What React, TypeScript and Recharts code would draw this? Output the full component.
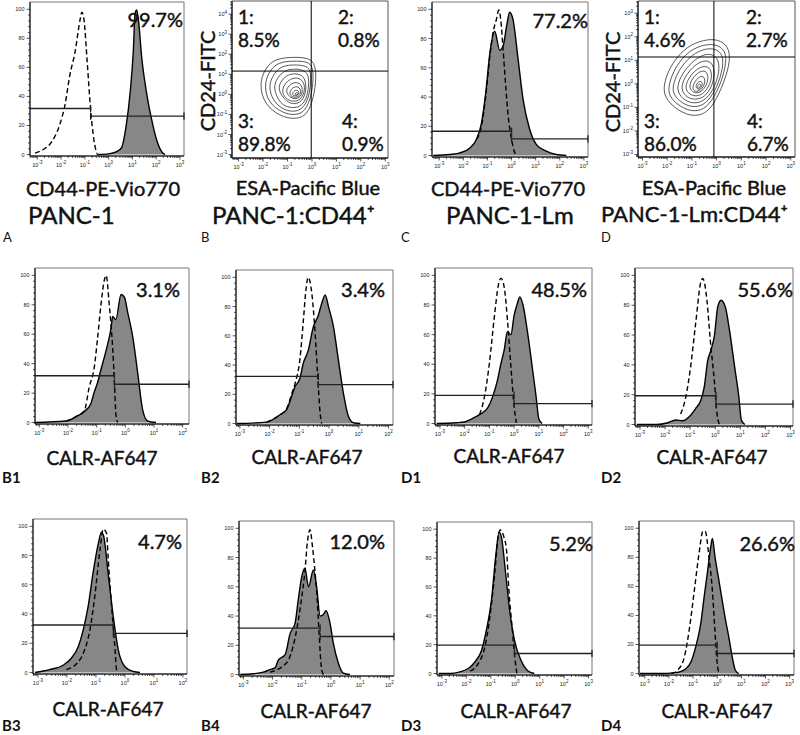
import React from "react";
import { Area, ComposedChart, Line, ReferenceArea, ReferenceLine, XAxis, YAxis } from "recharts";

type Pts = [number, number][];

// histogram traces: x = log10 intensity, y = % of mode
const aStained: Pts = [[-0.5,0],[-0.08,0.3],[0.34,2],[0.55,5],[0.73,19],[0.9,42],[1.04,72],[1.11,97],[1.18,99.5],[1.25,93],[1.39,67],[1.6,42],[1.81,24],[2.02,10],[2.23,2],[2.37,0]];
const aControl: Pts = [[-3.1,1],[-2.75,3.5],[-2.4,8.7],[-2.05,21],[-1.84,34],[-1.63,55],[-1.42,70],[-1.2,93],[-1.13,98],[-1.04,93],[-0.9,63],[-0.76,31],[-0.62,10],[-0.5,0.7]];
const cStained: Pts = [[-3.25,0],[-2.56,0.7],[-2.14,1.8],[-1.73,5.2],[-1.46,11],[-1.25,22],[-1.07,43],[-0.9,70],[-0.7,85],[-0.49,72],[-0.35,75],[-0.19,90],[-0.08,98],[0.06,93],[0.27,66],[0.48,38],[0.75,18],[1.03,7.5],[1.44,3],[1.86,0.7],[2.27,0]];
const cControl: Pts = [[-1.46,11],[-1.25,20],[-1.07,41],[-0.9,68],[-0.77,84],[-0.63,93],[-0.53,99.5],[-0.45,93],[-0.35,72],[-0.24,47],[-0.14,27],[0,11],[0.13,2],[0.2,0]];
const b1Stained: Pts = [[-3.17,0],[-2.07,1],[-1.72,4],[-1.43,7.5],[-1.2,13],[-1.08,21],[-0.97,27],[-0.85,36],[-0.67,49],[-0.5,64],[-0.44,72],[-0.33,70],[-0.15,87],[-0.03,85],[0.08,75],[0.26,58],[0.43,34],[0.6,9],[0.78,1],[1.07,0]];
const b1Control: Pts = [[-2.07,1],[-1.72,4],[-1.43,8],[-1.26,24],[-1.08,38],[-0.97,57],[-0.85,80],[-0.73,97],[-0.67,100],[-0.56,80],[-0.44,50],[-0.38,27],[-0.33,6],[-0.27,0]];
const b2Stained: Pts = [[-3.1,0],[-2.1,1],[-1.65,6],[-1.43,9.5],[-1.26,18.6],[-1.15,25],[-0.98,31],[-0.87,41],[-0.7,50],[-0.53,66],[-0.36,74],[-0.25,82],[-0.13,88],[-0.02,80],[0.15,66],[0.31,44],[0.48,21],[0.65,5],[0.82,0.5],[1.05,0]];
const b2Control: Pts = [[-2.1,1],[-1.65,6],[-1.43,10],[-1.26,20],[-1.15,27],[-0.98,44],[-0.87,69],[-0.78,91],[-0.7,100],[-0.58,89],[-0.47,62],[-0.39,35],[-0.3,7],[-0.25,0]];
const d1Stained: Pts = [[-3.13,0],[-2.33,0.5],[-2.0,1],[-1.73,3],[-1.4,6],[-1.07,10.5],[-0.87,18],[-0.67,29.5],[-0.53,40.7],[-0.4,49.7],[-0.27,62],[-0.13,60],[0.0,73],[0.13,81],[0.23,85.5],[0.36,80],[0.53,63],[0.73,38.5],[0.89,18],[1.0,3],[1.13,0]];
const d1Control: Pts = [[-1.4,6],[-1.2,18],[-1.0,40.7],[-0.8,72],[-0.63,94],[-0.53,98],[-0.4,92],[-0.27,70],[-0.13,38.5],[0.0,11.6],[0.09,0.5]];
const d2Stained: Pts = [[-3.13,0],[-2.33,0],[-1.92,1],[-1.58,3],[-1.3,2.5],[-1.05,5],[-0.78,10.8],[-0.57,16.4],[-0.44,25],[-0.3,43],[-0.17,50],[-0.03,60],[0.1,79],[0.23,83.4],[0.4,79],[0.57,63],[0.77,39],[0.94,18.6],[1.04,3],[1.18,0]];
const d2Control: Pts = [[-1.38,7],[-1.18,18],[-0.98,39],[-0.78,68],[-0.57,96],[-0.5,98],[-0.33,83],[-0.2,57],[-0.03,28],[0.07,7],[0.17,0]];
const b3Stained: Pts = [[-3.1,0],[-2.6,2],[-2.13,5],[-1.85,9.8],[-1.61,17.7],[-1.44,29],[-1.27,45],[-1.1,68],[-0.92,88],[-0.81,96],[-0.73,93],[-0.58,68],[-0.4,38],[-0.23,15.5],[0.0,4],[0.29,0.7],[0.52,0]];
const b3Control: Pts = [[-2.02,2],[-1.67,6],[-1.44,13],[-1.21,29],[-1.04,52],[-0.86,84],[-0.75,98],[-0.63,95],[-0.58,79],[-0.46,45],[-0.34,15.5],[-0.29,2],[-0.23,0]];
const b4Stained: Pts = [[-3.11,0],[-2.66,0.5],[-2.32,1.6],[-2.09,3.4],[-1.92,4.5],[-1.8,10],[-1.57,13.6],[-1.4,28],[-1.23,35],[-1.12,51],[-1.0,67],[-0.89,72.7],[-0.77,60],[-0.6,71.6],[-0.49,60],[-0.37,40],[-0.26,41],[-0.17,43.6],[-0.03,35],[0.08,21.6],[0.25,8],[0.42,1],[0.65,0]];
const b4Control: Pts = [[-2.09,1.6],[-1.52,8],[-1.23,25],[-1.0,53],[-0.89,71],[-0.81,90],[-0.72,99],[-0.63,87],[-0.55,71],[-0.47,51],[-0.4,26],[-0.32,3.4],[-0.26,0]];
const d3Stained: Pts = [[-3.13,0],[-2.66,0],[-2.26,1.2],[-1.92,3.5],[-1.65,8],[-1.38,16],[-1.18,30],[-0.97,51],[-0.8,81],[-0.66,98],[-0.57,95],[-0.39,69],[-0.23,44],[-0.03,23],[0.24,9],[0.51,2],[0.78,0]];
const d3Control: Pts = [[-1.85,1.6],[-1.51,7],[-1.24,18.5],[-1.04,39],[-0.84,69],[-0.7,95],[-0.61,99.5],[-0.47,95],[-0.36,86],[-0.26,58],[-0.12,30.6],[0.01,7],[0.07,0]];
const d4Stained: Pts = [[-3.2,0],[-2.25,0],[-1.84,0.5],[-1.57,1.1],[-1.29,3.4],[-1.09,8],[-0.89,18.4],[-0.68,34.5],[-0.54,53],[-0.41,69],[-0.27,87],[-0.2,93],[-0.09,80],[0.04,67],[0.18,53],[0.32,39],[0.48,25],[0.62,11.5],[0.75,2.3],[0.89,0]];
const d4Control: Pts = [[-1.9,0],[-1.64,2.3],[-1.36,11.5],[-1.16,30],[-0.95,57],[-0.75,83],[-0.59,98],[-0.5,98],[-0.34,80],[-0.2,57],[-0.09,28],[0.0,7],[0.07,0]];

// gates: [split position, left bar level, right bar level]
const gateA = [-0.76, 31.7, 26.4];
const gateC = [0.0, 16.6, 11.4];
const gateB1 = [-0.38, 31.8, 26];
const gateB2 = [-0.36, 32.3, 26.6];
const gateD1 = [0.0, 19, 13.4];
const gateD2 = [0.03, 19.3, 13.7];
const gateB3 = [-0.4, 32.5, 26.8];
const gateB4 = [-0.37, 31.8, 26];
const gateD3 = [-0.03, 19.7, 13.9];
const gateD4 = [0.0, 19.5, 13.8];

// contour rings (log10 ESA, log10 CD24), outer to inner
const ringsB: Pts[] = [
  [[-2.15,0.5],[-1.95,1.2],[-1.6,1.72],[-1.0,1.85],[-0.3,1.85],[0.12,1.65],[0.18,0.8],[0.08,-0.1],[-0.18,-1.05],[-0.7,-1.25],[-1.3,-1.1],[-1.95,-0.5]],
  [[-1.95,0.45],[-1.78,1.08],[-1.45,1.55],[-0.95,1.66],[-0.3,1.66],[0.03,1.48],[0.06,0.75],[-0.02,-0.08],[-0.28,-0.88],[-0.72,-1.05],[-1.22,-0.92],[-1.8,-0.4]],
  [[-1.78,0.4],[-1.6,0.95],[-1.3,1.38],[-0.85,1.48],[-0.3,1.45],[-0.05,1.25],[-0.05,0.6],[-0.12,-0.15],[-0.38,-0.75],[-0.78,-0.88],[-1.2,-0.75],[-1.6,-0.32]],
  [[-1.6,0.32],[-1.42,0.82],[-1.15,1.18],[-0.75,1.28],[-0.32,1.22],[-0.13,0.95],[-0.13,0.4],[-0.22,-0.25],[-0.5,-0.65],[-0.88,-0.68],[-1.3,-0.5]],
  [[-1.42,0.25],[-1.25,0.7],[-0.98,1.0],[-0.6,1.05],[-0.3,0.88],[-0.22,0.35],[-0.33,-0.25],[-0.65,-0.52],[-1.05,-0.4]],
  [[-1.25,0.18],[-1.08,0.58],[-0.82,0.82],[-0.5,0.82],[-0.3,0.55],[-0.3,0.1],[-0.48,-0.3],[-0.8,-0.38],[-1.1,-0.2]],
  [[-1.1,0.12],[-0.95,0.45],[-0.7,0.62],[-0.45,0.55],[-0.36,0.15],[-0.5,-0.2],[-0.82,-0.25]],
  [[-0.95,0.05],[-0.8,0.35],[-0.55,0.42],[-0.42,0.12],[-0.55,-0.15],[-0.8,-0.16]],
  [[-0.82,0.02],[-0.68,0.25],[-0.5,0.15],[-0.58,-0.08],[-0.75,-0.08]],
  [[-0.72,0.0],[-0.62,0.12],[-0.54,0.02],[-0.64,-0.06]],
];
const ringsD: Pts[] = [
  [[-2.2,-0.3],[-2.0,0.45],[-1.72,0.98],[-1.2,1.6],[-0.5,1.88],[0.05,1.9],[0.48,1.6],[0.56,1.0],[0.32,0.1],[-0.12,-0.92],[-0.58,-1.36],[-1.2,-1.36],[-1.92,-0.86]],
  [[-2.0,-0.28],[-1.8,0.4],[-1.55,0.88],[-1.1,1.42],[-0.5,1.68],[0.0,1.68],[0.35,1.42],[0.4,0.92],[0.2,0.08],[-0.2,-0.78],[-0.62,-1.16],[-1.18,-1.16],[-1.78,-0.74]],
  [[-1.82,-0.25],[-1.64,0.35],[-1.38,0.8],[-0.98,1.25],[-0.48,1.5],[-0.04,1.5],[0.24,1.25],[0.27,0.8],[0.1,0.05],[-0.26,-0.65],[-0.65,-0.98],[-1.15,-0.98],[-1.63,-0.64]],
  [[-1.62,-0.2],[-1.46,0.3],[-1.2,0.7],[-0.85,1.06],[-0.45,1.28],[-0.1,1.24],[0.12,0.94],[0.08,0.3],[-0.22,-0.45],[-0.64,-0.82],[-1.1,-0.82],[-1.46,-0.56]],
  [[-1.44,-0.16],[-1.3,0.26],[-1.05,0.62],[-0.72,0.92],[-0.36,1.02],[-0.1,0.78],[-0.08,0.2],[-0.32,-0.38],[-0.66,-0.66],[-1.05,-0.66],[-1.32,-0.46]],
  [[-1.28,-0.13],[-1.14,0.22],[-0.9,0.55],[-0.58,0.76],[-0.28,0.72],[-0.17,0.35],[-0.3,-0.1],[-0.55,-0.45],[-0.88,-0.55],[-1.16,-0.4]],
  [[-1.12,-0.1],[-0.98,0.24],[-0.72,0.52],[-0.44,0.58],[-0.32,0.3],[-0.42,-0.12],[-0.7,-0.42],[-1.0,-0.36]],
  [[-0.98,-0.1],[-0.82,0.2],[-0.58,0.38],[-0.44,0.18],[-0.54,-0.18],[-0.76,-0.34],[-0.94,-0.3]],
  [[-0.88,-0.12],[-0.74,0.1],[-0.58,0.12],[-0.58,-0.12],[-0.72,-0.28]],
  [[-0.8,-0.14],[-0.7,0.02],[-0.62,-0.06],[-0.72,-0.22]],
];

// quadrant cuts [x, y] and percentages (1, 2, 3, 4)
const quadB = [-0.03, 1.16];
const quadBLabels = ["8.5%", "0.8%", "89.8%", "0.9%"];
const quadD = [-0.11, 1.14];
const quadDLabels = ["4.6%", "2.7%", "86.0%", "6.7%"];

const FONT = "Lato, 'Open Sans', sans-serif";
const TICKFONT = "'Liberation Sans', Arial, sans-serif";
const YW = 30;
const XH = 16;

const toXY = (a: Pts) => a.map(([x, y]) => ({ x, y }));

function logTicks(lo: number, hi: number) {
  const out: number[] = [];
  for (let k = Math.floor(lo); k <= Math.ceil(hi); k++) {
    for (let m = 1; m < 10; m++) {
      const v = k + Math.log10(m);
      if (v >= lo && v <= hi) out.push(+v.toFixed(4));
    }
  }
  return out;
}
const isMajor = (v: number) => Math.abs(v - Math.round(v)) < 1e-3;
const linTicks: number[] = [];
for (let v = 0; v <= 100; v += 4) linTicks.push(v);

const XTick = (p: any) => {
  const { x, y, payload } = p;
  const v = payload.value as number;
  const major = isMajor(v);
  return (
    <g>
      <line x1={x} x2={x} y1={y} y2={y + (major ? 3.5 : 2)} stroke="#111" strokeWidth={0.7} />
      {major && (
        <text x={x} y={y + 10.5} textAnchor="middle" fontSize={5.5} fontFamily={TICKFONT} fill="#222">
          10<tspan dy={-2.5} fontSize={4.5}>{Math.round(v)}</tspan>
        </text>
      )}
    </g>
  );
};

const YTickLin = (p: any) => {
  const { x, y, payload } = p;
  const v = payload.value as number;
  const major = v % 20 === 0;
  return (
    <g>
      <line x1={x} x2={x - (major ? 3.5 : 2)} y1={y} y2={y} stroke="#111" strokeWidth={0.7} />
      {major && (
        <text x={x - 5.5} y={y + 2} textAnchor="end" fontSize={5.5} fontFamily={TICKFONT} fill="#222">{v}</text>
      )}
    </g>
  );
};

const YTickLog = (p: any) => {
  const { x, y, payload } = p;
  const v = payload.value as number;
  const major = isMajor(v);
  return (
    <g>
      <line x1={x} x2={x - (major ? 3.5 : 2)} y1={y} y2={y} stroke="#111" strokeWidth={0.7} />
      {major && (
        <text x={x - 5} y={y + 2} textAnchor="end" fontSize={5.5} fontFamily={TICKFONT} fill="#222">
          10<tspan dy={-2.5} fontSize={4.5}>{Math.round(v)}</tspan>
        </text>
      )}
    </g>
  );
};

type Box = { l: number; t: number; r: number; b: number };

function Frame({ box, children }: { box: Box; children: React.ReactNode }) {
  return (
    <div style={{ position: "absolute", left: box.l - YW, top: box.t - 2 }}>
      {children}
    </div>
  );
}

function Histogram({ box, xd, stained, control, gate }: {
  box: Box; xd: [number, number]; stained: Pts; control: Pts; gate: number[];
}) {
  const yd: [number, number] = [-1, 105];
  const seg = (x1: number, y1: number, x2: number, y2: number, k: string) => (
    <ReferenceLine key={k} segment={[{ x: x1, y: y1 }, { x: x2, y: y2 }]} stroke="#222" strokeWidth={1.3} ifOverflow="visible" />
  );
  return (
    <Frame box={box}>
      <ComposedChart width={box.r - box.l + YW + 4} height={box.b - box.t + 2 + XH} margin={{ top: 2, right: 4, bottom: 0, left: 0 }}>
        <XAxis type="number" dataKey="x" domain={xd} allowDataOverflow ticks={logTicks(xd[0], xd[1])} interval={0}
          tick={(p: any) => <XTick {...p} />} tickLine={false} tickSize={0} tickMargin={0} height={XH} axisLine={{ stroke: "#000" }} />
        <YAxis type="number" domain={yd} allowDataOverflow ticks={linTicks} interval={0} width={YW}
          tick={(p: any) => <YTickLin {...p} />} tickLine={false} tickSize={0} tickMargin={0} axisLine={{ stroke: "#000" }} />
        <ReferenceArea x1={xd[0]} x2={xd[1]} y1={yd[0]} y2={yd[1]} fill="none" stroke="#777" strokeWidth={1} ifOverflow="visible" />
        <Area data={toXY(stained)} dataKey="y" type="monotone" baseValue={0} fill="#878787" fillOpacity={1}
          stroke="#000" strokeWidth={1.4} dot={false} activeDot={false} isAnimationActive={false} />
        <Line data={toXY(control)} dataKey="y" type="monotone" stroke="#000" strokeWidth={1.4} strokeDasharray="5 3"
          dot={false} activeDot={false} isAnimationActive={false} />
        {seg(xd[0], gate[1], gate[0], gate[1], "l")}
        {seg(gate[0], gate[1] - 2.5, gate[0], gate[1] + 2.5, "lt")}
        {seg(gate[0], gate[2], xd[1], gate[2], "r")}
        {seg(gate[0], gate[2] - 2.5, gate[0], gate[2] + 2.5, "rt")}
        {seg(xd[1], gate[2] - 2.5, xd[1], gate[2] + 2.5, "re")}
      </ComposedChart>
    </Frame>
  );
}

function Contour({ box, xd, yd, rings, quad }: {
  box: Box; xd: [number, number]; yd: [number, number]; rings: Pts[]; quad: number[];
}) {
  return (
    <Frame box={box}>
      <ComposedChart width={box.r - box.l + YW + 4} height={box.b - box.t + 2 + XH} margin={{ top: 2, right: 4, bottom: 0, left: 0 }}>
        <XAxis type="number" dataKey="x" domain={xd} allowDataOverflow ticks={logTicks(xd[0], xd[1])} interval={0}
          tick={(p: any) => <XTick {...p} />} tickLine={false} tickSize={0} tickMargin={0} height={XH} axisLine={{ stroke: "#000" }} />
        <YAxis type="number" domain={yd} allowDataOverflow ticks={logTicks(yd[0], yd[1])} interval={0} width={YW}
          tick={(p: any) => <YTickLog {...p} />} tickLine={false} tickSize={0} tickMargin={0} axisLine={{ stroke: "#000" }} />
        <ReferenceArea x1={xd[0]} x2={xd[1]} y1={yd[0]} y2={yd[1]} fill="none" stroke="#555" strokeWidth={1} ifOverflow="visible" />
        {rings.map((r, i) => (
          <Line key={i} data={toXY(r)} dataKey="y" type="basisClosed" stroke="#222" strokeWidth={0.75}
            dot={false} activeDot={false} isAnimationActive={false} />
        ))}
        <ReferenceLine x={quad[0]} stroke="#000" strokeWidth={1} />
        <ReferenceLine y={quad[1]} stroke="#000" strokeWidth={1} />
      </ComposedChart>
    </Frame>
  );
}

function Txt({ x, y, anchor = "middle", size = 20, weight = 400, heavy = true, rotate = false, children }: {
  x: number; y: number; anchor?: "start" | "middle" | "end"; size?: number; weight?: number; heavy?: boolean;
  rotate?: boolean; children: React.ReactNode;
}) {
  const tx = anchor === "start" ? "0" : anchor === "end" ? "-100%" : "-50%";
  return (
    <div style={{
      position: "absolute", left: x, top: y, transform: `translate(${tx}, -50%)${rotate ? " rotate(-90deg)" : ""}`,
      fontFamily: FONT, fontSize: size, fontWeight: weight, lineHeight: 1, whiteSpace: "nowrap", color: "#111",
      WebkitTextStroke: heavy ? "0.45px #111" : undefined,
    }}>{children}</div>
  );
}

function Quad({ x, y, n, value }: { x: number; y: number; n: number; value: string }) {
  return (
    <>
      <Txt x={x} y={y} anchor="start" size={19}>{n}:</Txt>
      <Txt x={x} y={y + 23} anchor="start" size={19}>{value}</Txt>
    </>
  );
}

export default function App() {
  return (
    <div style={{ position: "absolute", left: 0, top: 0, width: 800, height: 735, background: "#fff", overflow: "hidden" }}>
      {/* row 1 */}
      <Histogram box={{ l: 30, t: 2, r: 184, b: 156 }} xd={[-3.31, 3.17]} stained={aStained} control={aControl} gate={gateA} />
      <Contour box={{ l: 232, t: 1, r: 388, b: 158 }} xd={[-3.27, 3.11]} yd={[-3.17, 4.65]} rings={ringsB} quad={quadB} />
      <Histogram box={{ l: 432, t: 2, r: 588, b: 157 }} xd={[-3.3, 3.17]} stained={cStained} control={cControl} gate={gateC} />
      <Contour box={{ l: 638, t: 1, r: 795, b: 157 }} xd={[-3.18, 3.17]} yd={[-3.11, 3.52]} rings={ringsD} quad={quadD} />

      {/* row 2 */}
      <Histogram box={{ l: 35, t: 268, r: 189, b: 424 }} xd={[-3.15, 2.22]} stained={b1Stained} control={b1Control} gate={gateB1} />
      <Histogram box={{ l: 236, t: 270, r: 393, b: 425 }} xd={[-3.13, 2.15]} stained={b2Stained} control={b2Control} gate={gateB2} />
      <Histogram box={{ l: 435, t: 268, r: 592, b: 425 }} xd={[-3.2, 3.15]} stained={d1Stained} control={d1Control} gate={gateD1} />
      <Histogram box={{ l: 635, t: 268, r: 793, b: 426 }} xd={[-3.2, 3.1]} stained={d2Stained} control={d2Control} gate={gateD2} />

      {/* row 3 */}
      <Histogram box={{ l: 33, t: 519, r: 187, b: 674 }} xd={[-3.17, 2.14]} stained={b3Stained} control={b3Control} gate={gateB3} />
      <Histogram box={{ l: 239, t: 521, r: 394, b: 676 }} xd={[-3.15, 2.16]} stained={b4Stained} control={b4Control} gate={gateB4} />
      <Histogram box={{ l: 437, t: 522, r: 592, b: 675 }} xd={[-3.2, 3.14]} stained={d3Stained} control={d3Control} gate={gateD3} />
      <Histogram box={{ l: 639, t: 521, r: 794, b: 675 }} xd={[-3.24, 3.18]} stained={d4Stained} control={d4Control} gate={gateD4} />

      {/* row 1 text */}
      <Txt x={183} y={19} anchor="end">99.7%</Txt>
      <Txt x={103} y={188}>CD44-PE-Vio770</Txt>
      <Txt x={28} y={215} anchor="start" size={24}>PANC-1</Txt>
      <Txt x={206.5} y={81} rotate>CD24-FITC</Txt>
      <Txt x={308} y={187}>ESA-Pacific Blue</Txt>
      <Txt x={212} y={215} anchor="start" size={24}>PANC-1:CD44⁺</Txt>
      <Quad x={238} y={16} n={1} value={quadBLabels[0]} />
      <Quad x={338} y={16} n={2} value={quadBLabels[1]} />
      <Quad x={238} y={120} n={3} value={quadBLabels[2]} />
      <Quad x={342} y={120} n={4} value={quadBLabels[3]} />
      <Txt x={588} y={20} anchor="end">77.2%</Txt>
      <Txt x={508} y={188}>CD44-PE-Vio770</Txt>
      <Txt x={446} y={215} anchor="start" size={24}>PANC-1-Lm</Txt>
      <Txt x={611.5} y={82} rotate>CD24-FITC</Txt>
      <Txt x={714} y={187}>ESA-Pacific Blue</Txt>
      <Txt x={601} y={214} anchor="start" size={22}>PANC-1-Lm:CD44⁺</Txt>
      <Quad x={644} y={16} n={1} value={quadDLabels[0]} />
      <Quad x={746} y={16} n={2} value={quadDLabels[1]} />
      <Quad x={644} y={120} n={3} value={quadDLabels[2]} />
      <Quad x={747} y={120} n={4} value={quadDLabels[3]} />
      <Txt x={3} y={237} anchor="start" size={13} heavy={false}>A</Txt>
      <Txt x={201} y={237} anchor="start" size={13} heavy={false}>B</Txt>
      <Txt x={401} y={237} anchor="start" size={13} heavy={false}>C</Txt>
      <Txt x={601} y={237} anchor="start" size={13} heavy={false}>D</Txt>

      {/* row 2 text */}
      <Txt x={180} y={289} anchor="end">3.1%</Txt>
      <Txt x={385} y={289} anchor="end">3.4%</Txt>
      <Txt x={587} y={289} anchor="end">48.5%</Txt>
      <Txt x={793} y={289} anchor="end">55.6%</Txt>
      <Txt x={102} y={457} size={19}>CALR-AF647</Txt>
      <Txt x={307} y={456} size={19}>CALR-AF647</Txt>
      <Txt x={509} y={455} size={19}>CALR-AF647</Txt>
      <Txt x={712} y={456} size={19}>CALR-AF647</Txt>
      <Txt x={2} y={477} anchor="start" size={15} weight={700} heavy={false}>B1</Txt>
      <Txt x={201} y={477} anchor="start" size={15} weight={700} heavy={false}>B2</Txt>
      <Txt x={401} y={477} anchor="start" size={15} weight={700} heavy={false}>D1</Txt>
      <Txt x={601} y={477} anchor="start" size={15} weight={700} heavy={false}>D2</Txt>

      {/* row 3 text */}
      <Txt x={182} y={541} anchor="end">4.7%</Txt>
      <Txt x={385} y={541} anchor="end">12.0%</Txt>
      <Txt x={593} y={543} anchor="end">5.2%</Txt>
      <Txt x={795} y={543} anchor="end">26.6%</Txt>
      <Txt x={108} y={708} size={19}>CALR-AF647</Txt>
      <Txt x={316} y={710} size={19}>CALR-AF647</Txt>
      <Txt x={516} y={710} size={19}>CALR-AF647</Txt>
      <Txt x={717} y={710} size={19}>CALR-AF647</Txt>
      <Txt x={2} y={725} anchor="start" size={15} weight={700} heavy={false}>B3</Txt>
      <Txt x={201} y={725} anchor="start" size={15} weight={700} heavy={false}>B4</Txt>
      <Txt x={401} y={725} anchor="start" size={15} weight={700} heavy={false}>D3</Txt>
      <Txt x={601} y={725} anchor="start" size={15} weight={700} heavy={false}>D4</Txt>
    </div>
  );
}
